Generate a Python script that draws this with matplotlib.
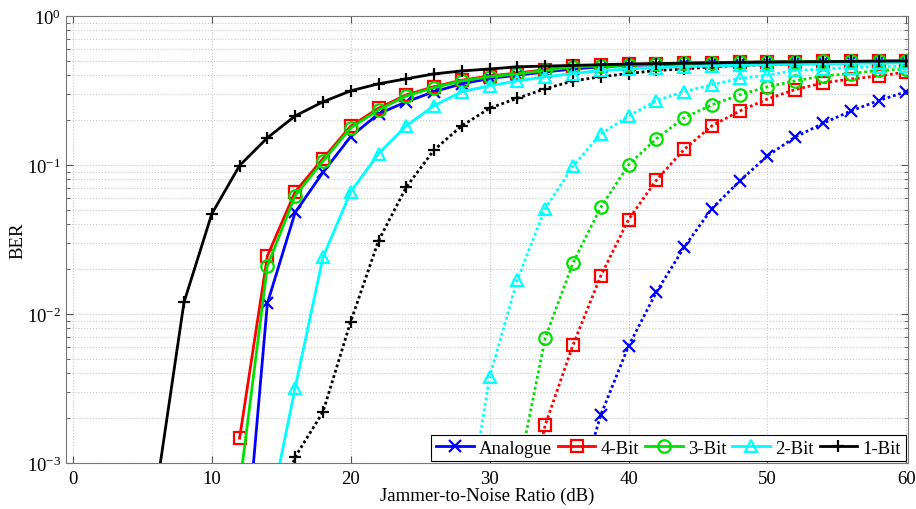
import matplotlib
matplotlib.use('Agg')
import matplotlib.pyplot as plt
import numpy as np

plt.rcParams['font.family'] = ['Liberation Serif', 'DejaVu Serif']
plt.rcParams['mathtext.fontset'] = 'stix'

nan = np.nan

# Jammer-to-Noise Ratio (dB), marker every 2 dB
jnr = [0, 2, 4, 6, 8, 10, 12, 14, 16, 18, 20, 22, 24, 26, 28, 30,
       32, 34, 36, 38, 40, 42, 44, 46, 48, 50, 52, 54, 56, 58, 60]

# solid curves (legend entries)
ber_analogue = [nan, nan, nan, nan, nan, nan, 8.5e-5, 0.0118, 0.048, 0.089, 0.155, 0.22, 0.265, 0.31,
                0.35, 0.38, 0.40, 0.42, 0.44, 0.455, 0.465, 0.47, 0.475, 0.48, 0.485, 0.49,
                0.49, 0.492, 0.494, 0.495, 0.496]
ber_4bit = [nan, nan, nan, nan, nan, nan, 1.47e-3, 0.0245, 0.066, 0.11, 0.182, 0.24, 0.295, 0.335,
            0.37, 0.395, 0.413, 0.435, 0.458, 0.465, 0.472, 0.478, 0.482, 0.486, 0.489, 0.491,
            0.493, 0.494, 0.495, 0.496, 0.497]
ber_3bit = [nan, nan, nan, nan, nan, nan, 7e-4, 0.021, 0.062, 0.106, 0.177, 0.234, 0.29, 0.33,
            0.366, 0.39, 0.408, 0.43, 0.455, 0.46, 0.468, 0.475, 0.48, 0.484, 0.487, 0.49,
            0.492, 0.494, 0.495, 0.496, 0.497]
ber_2bit = [nan, nan, nan, nan, nan, nan, nan, 3.9e-4, 3.2e-3, 0.024, 0.066, 0.119, 0.183, 0.25,
            0.31, 0.34, 0.366, 0.39, 0.41, 0.43, 0.44, 0.45, 0.456, 0.462, 0.466, 0.47,
            0.474, 0.477, 0.48, 0.482, 0.484]
ber_1bit = [nan, nan, nan, 6.5e-4, 0.012, 0.047, 0.099, 0.152, 0.213, 0.265, 0.314, 0.35, 0.378, 0.408,
            0.427, 0.44, 0.455, 0.46, 0.465, 0.47, 0.475, 0.478, 0.481, 0.484, 0.487, 0.489,
            0.491, 0.493, 0.495, 0.497, 0.498]

# dotted curves
ber_analogue_d = [nan, nan, nan, nan, nan, nan, nan, nan, nan, nan, nan, nan, nan, nan, nan, nan,
                  nan, nan, 4.9e-4, 2.1e-3, 6.1e-3, 0.014, 0.028, 0.051, 0.078, 0.115,
                  0.154, 0.19, 0.23, 0.27, 0.31]
ber_4bit_d = [nan, nan, nan, nan, nan, nan, nan, nan, nan, nan, nan, nan, nan, nan, nan, nan,
              2.5e-4, 1.8e-3, 6.2e-3, 0.018, 0.043, 0.079, 0.127, 0.183, 0.23, 0.277,
              0.32, 0.355, 0.377, 0.395, 0.42]
ber_3bit_d = [nan, nan, nan, nan, nan, nan, nan, nan, nan, nan, nan, nan, nan, nan, nan, nan,
              8.1e-4, 6.9e-3, 0.022, 0.052, 0.1, 0.15, 0.207, 0.253, 0.295, 0.334,
              0.366, 0.395, 0.41, 0.43, 0.44]
ber_2bit_d = [nan, nan, nan, nan, nan, nan, nan, nan, nan, nan, nan, nan, nan, nan, 2.6e-4, 3.8e-3,
              0.017, 0.051, 0.098, 0.161, 0.213, 0.27, 0.31, 0.345, 0.38, 0.40,
              0.43, 0.44, 0.45, 0.455, 0.46]
ber_1bit_d = [nan, nan, nan, nan, nan, nan, nan, 3e-4, 1.1e-3, 2.2e-3, 8.9e-3, 0.031, 0.071, 0.126,
              0.183, 0.24, 0.28, 0.324, 0.366, 0.39, 0.41, 0.43, 0.44, 0.455, 0.465, 0.47,
              0.475, 0.48, 0.484, 0.488, 0.49]

labels = ['Analogue', '4-Bit', '3-Bit', '2-Bit', '1-Bit']
colors = ['#0000ff', '#ff0000', '#00e000', '#00ffff', '#000000']
markers = ['x', 's', 'o', '^', '+']
solid = [ber_analogue, ber_4bit, ber_3bit, ber_2bit, ber_1bit]
dotted = [ber_analogue_d, ber_4bit_d, ber_3bit_d, ber_2bit_d, ber_1bit_d]

fig = plt.figure(figsize=(9.16, 5.10), dpi=100)
ax = fig.add_axes([0.072, 0.09, 0.919, 0.877])

for i in range(5):
    ax.semilogy(jnr, dotted[i], linestyle=(0, (1, 1)), linewidth=2, color=colors[i],
                marker=markers[i], markersize=9, markerfacecolor='none', markeredgewidth=1.6)
for i in range(5):
    ax.semilogy(jnr, solid[i], '-', linewidth=2, color=colors[i], label=labels[i],
                marker=markers[i], markersize=9, markerfacecolor='none', markeredgewidth=1.6)

ax.set_xlim(-0.5, 60.1)
ax.set_ylim(1e-3, 1)
ax.set_xticks([0, 10, 20, 30, 40, 50, 60])
ax.grid(True, which='major', linestyle=':', color='#c8c8c8', linewidth=0.8)
ax.grid(True, which='minor', axis='y', linestyle=':', color='#c8c8c8', linewidth=0.8)
ax.tick_params(which='both', direction='in', top=True, right=True, colors='#555555',
               labelcolor='black', labelsize=13.5)
ax.tick_params(which='major', length=5)
ax.tick_params(which='minor', length=3)
ax.tick_params(axis='x', pad=5)
for s in ax.spines.values():
    s.set_color('#777777')

ax.set_xlabel('Jammer-to-Noise Ratio (dB)', fontsize=13.5, labelpad=0)
ax.set_ylabel('BER', fontsize=13.5, labelpad=0)

leg = ax.legend(loc='lower right', ncol=5, fontsize=13.5, fancybox=False, edgecolor='black',
                framealpha=1, borderaxespad=0.1, handlelength=2.0, columnspacing=0.3,
                handletextpad=0.3, borderpad=0.25)
leg.get_frame().set_linewidth(0.8)

fig.savefig('out.png', dpi=100)
